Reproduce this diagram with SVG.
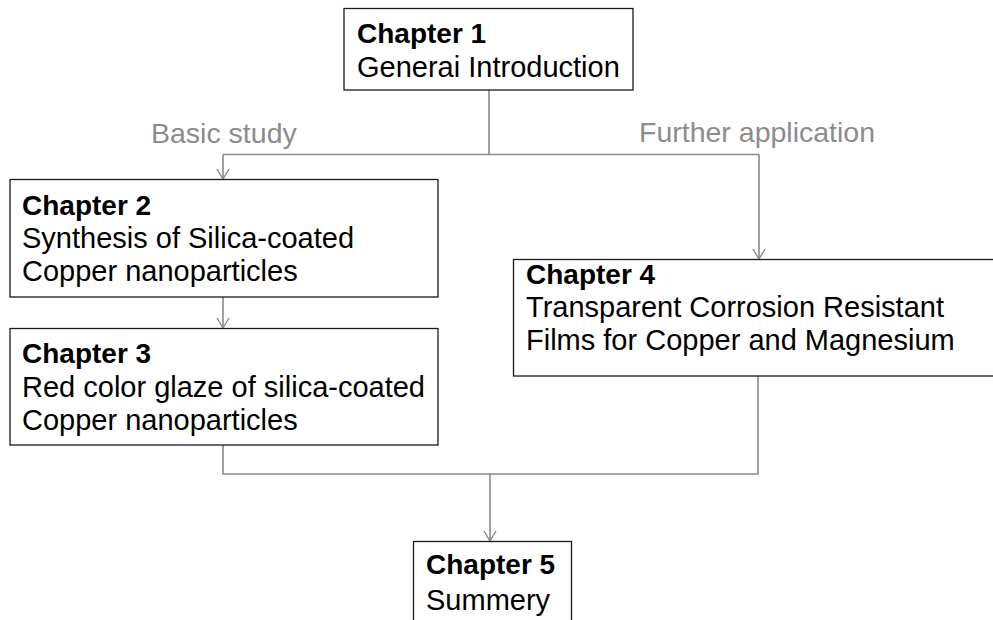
<svg xmlns="http://www.w3.org/2000/svg" width="993" height="620" viewBox="0 0 993 620">
  <style>
    .box { fill: #ffffff; stroke: #1a1a1a; stroke-width: 1.3; }
    .t { font-family: "Liberation Sans", Arial, sans-serif; font-size: 29px; fill: #000000; }
    .b { font-weight: bold; font-size: 28px; }
    .lbl { font-family: "Liberation Sans", Arial, sans-serif; font-size: 28.5px; fill: #8c8c8c; }
    .c { fill: none; stroke: #8a8a8a; stroke-width: 1.6; }
  </style>
  <defs>
    <marker id="arr" viewBox="-1 -7 12 14" refX="10" refY="0" markerWidth="12" markerHeight="14" markerUnits="userSpaceOnUse" orient="auto">
      <path d="M0,-6 L10,0 L0,6" fill="none" stroke="#8a8a8a" stroke-width="1.4"/>
    </marker>
  </defs>
  <rect width="993" height="620" fill="#ffffff"/>

  <g id="connectors">
    <path class="c" d="M489,90 V154.5"/>
    <path class="c" d="M223,154.5 H759"/>
    <path class="c" d="M223,154.5 V179" marker-end="url(#arr)"/>
    <path class="c" d="M759,154.5 V259" marker-end="url(#arr)"/>
    <path class="c" d="M223,297 V328" marker-end="url(#arr)"/>
    <path class="c" d="M223,445 V474 H758 V376"/>
    <path class="c" d="M490,474 V541" marker-end="url(#arr)"/>
  </g>

  <g id="labels">
    <text class="lbl" x="151" y="143">Basic study</text>
    <text class="lbl" x="639" y="142">Further application</text>
  </g>

  <g id="chapter1">
    <rect class="box" x="344" y="8.5" width="289" height="81.5"/>
    <text class="t b" x="357" y="43">Chapter 1</text>
    <text class="t" x="357" y="77">Generai Introduction</text>
  </g>

  <g id="chapter2">
    <rect class="box" x="10" y="179.5" width="428" height="117.5"/>
    <text class="t b" x="22" y="215">Chapter 2</text>
    <text class="t" x="22" y="248">Synthesis of Silica-coated</text>
    <text class="t" x="22" y="281">Copper nanoparticles</text>
  </g>

  <g id="chapter3">
    <rect class="box" x="10" y="328.5" width="428" height="116.5"/>
    <text class="t b" x="22" y="363">Chapter 3</text>
    <text class="t" x="22" y="396.5">Red color glaze of silica-coated</text>
    <text class="t" x="22" y="429.5">Copper nanoparticles</text>
  </g>

  <g id="chapter4">
    <rect class="box" x="513.5" y="259.5" width="490" height="116.5"/>
    <text class="t b" x="526" y="284">Chapter 4</text>
    <text class="t" x="526" y="317">Transparent Corrosion Resistant</text>
    <text class="t" x="526" y="350">Films for Copper and Magnesium</text>
  </g>

  <g id="chapter5">
    <rect class="box" x="413.5" y="541.5" width="158" height="90"/>
    <text class="t b" x="426" y="574">Chapter 5</text>
    <text class="t" x="426" y="610">Summery</text>
  </g>
</svg>
